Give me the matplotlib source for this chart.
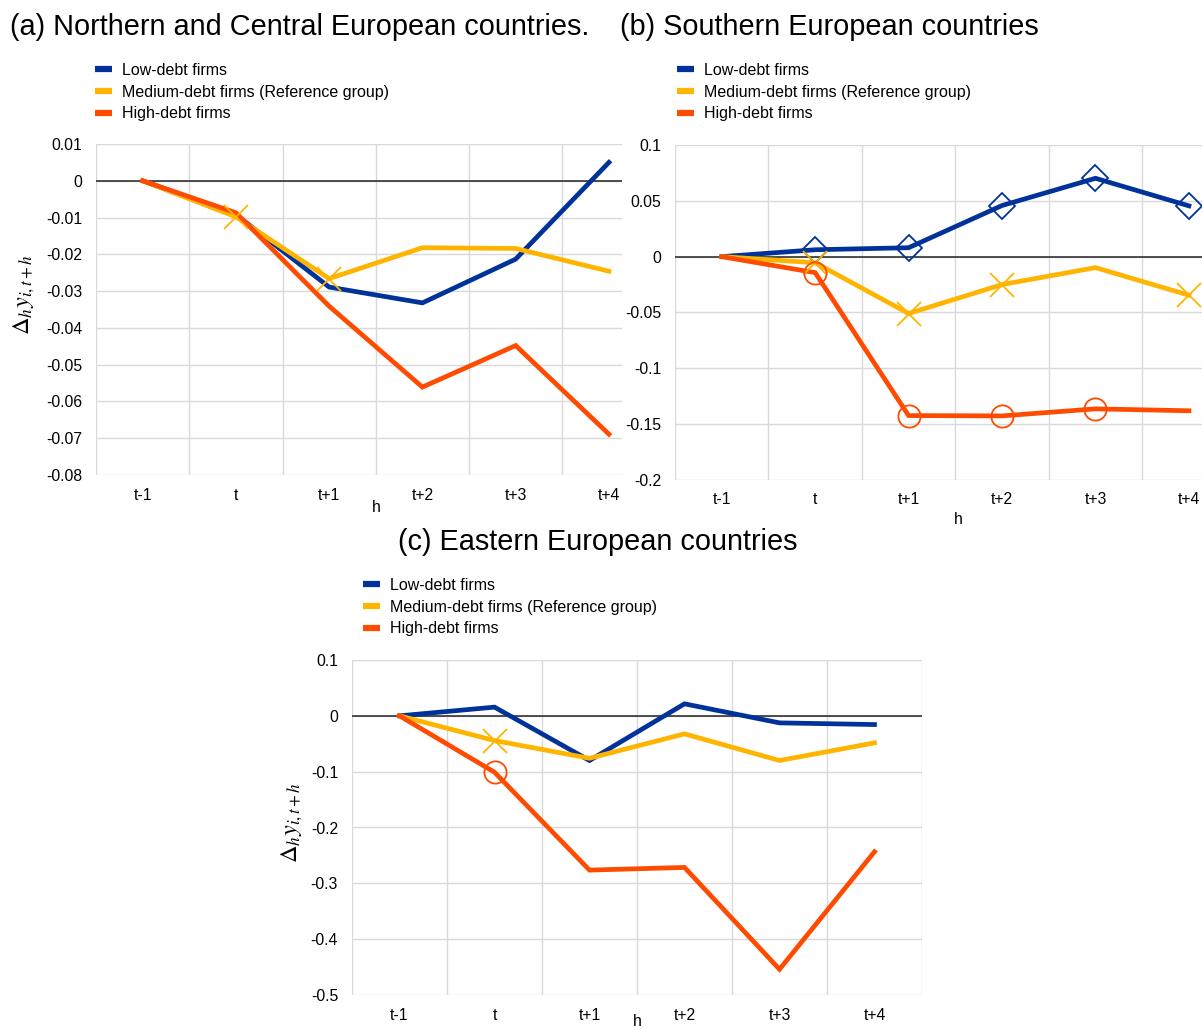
import numpy as np
import matplotlib
matplotlib.use('Agg')
import matplotlib.pyplot as plt
from matplotlib.lines import Line2D
from matplotlib.ticker import FuncFormatter, MultipleLocator

plt.rcParams['font.family'] = 'Liberation Sans'
plt.rcParams['mathtext.fontset'] = 'stix'

W, H = 1202, 1030

horizons = ['t-1', 't', 't+1', 't+2', 't+3', 't+4']
series_names = ['Low-debt firms', 'Medium-debt firms (Reference group)', 'High-debt firms']

# (a) Northern and Central Europe
north_low = [0, -0.0092, -0.0289, -0.0332, -0.0213, 0.0050]
north_med = [0, -0.0098, -0.0266, -0.0182, -0.0184, -0.0246]
north_high = [0, -0.0087, -0.0341, -0.0561, -0.0448, -0.0689]

# (b) Southern Europe
south_low = [0, 0.0062, 0.0080, 0.0458, 0.0702, 0.0455]
south_med = [0, -0.0054, -0.0509, -0.0250, -0.0098, -0.0345]
south_high = [0, -0.0143, -0.1423, -0.1426, -0.1363, -0.1380]

# (c) Eastern Europe
east_low = [0, 0.0156, -0.0800, 0.0215, -0.0126, -0.0156]
east_med = [0, -0.0443, -0.0760, -0.0323, -0.0800, -0.0484]
east_high = [0, -0.1010, -0.2763, -0.2715, -0.4540, -0.2434]

BLUE = '#003299'
YELLOW = '#FFB400'
ORANGE = '#FF4B00'
GRID = '#d9d9d9'


def px_rect(left, top, right, bottom):
    return [left / W, 1 - bottom / H, (right - left) / W, (bottom - top) / H]


def fmt(v, _):
    return f"{round(v, 3) + 0.0:g}"


def draw_panel(fig, rect, xmax, ylim, ystep, data, marks, legend_xy, label_h, label_y=None):
    ax = fig.add_axes(px_rect(*rect))
    x = np.arange(len(horizons))
    colors = [BLUE, YELLOW, ORANGE]
    styles = [dict(marker='D', markersize=13), dict(marker='x', markersize=17),
              dict(marker='o', markersize=16)]
    for vals, c, st, me in zip(data, colors, styles, marks):
        ax.plot(x, vals, color=c, lw=3.4, solid_joinstyle='miter', zorder=3)
        if me:
            ax.plot(x, vals, ls='none', color=c, markevery=me, mfc='none',
                    mec=c, mew=1.3, zorder=4, **st)

    ax.axhline(0, color='#222222', lw=1.1, zorder=2)
    ax.set_xticks(x)
    ax.set_xticklabels(horizons)
    ax.set_xticks(np.arange(-0.5, 6, 1), minor=True)
    # limits after the ticks, otherwise set_xticks widens the view
    ax.set_xlim(-0.5, xmax)
    ax.set_ylim(*ylim)
    ax.yaxis.set_major_locator(MultipleLocator(ystep))
    ax.yaxis.set_major_formatter(FuncFormatter(fmt))
    ax.grid(True, axis='x', which='minor', color=GRID, lw=1)
    ax.grid(True, axis='y', which='major', color=GRID, lw=1)
    ax.tick_params(which='both', length=0, labelsize=11.3, colors='black')
    ax.tick_params(axis='y', pad=10)
    ax.tick_params(axis='x', pad=9)
    for s in ax.spines.values():
        s.set_visible(False)

    ax.set_xlabel('h', fontsize=11.3)
    ax.xaxis.label.set_va('center')
    ax.xaxis.set_label_coords(*label_h)
    if label_y is not None:
        ax.set_ylabel(r'$\Delta_h y_{i,t+h}$', fontsize=17.5)
        ax.yaxis.label.set_va('center')
        ax.yaxis.set_label_coords(*label_y)

    handles = [Line2D([], [], color=c, lw=4.5, solid_capstyle='butt') for c in colors]
    ax.legend(handles, series_names, loc='upper left',
              bbox_to_anchor=(legend_xy[0] / W, 1 - legend_xy[1] / H),
              bbox_transform=fig.transFigure, frameon=False, fontsize=11.5,
              borderpad=0, borderaxespad=0, handlelength=1.05,
              handletextpad=0.65, labelspacing=0.42)
    return ax


def main():
    fig = plt.figure(figsize=(W / 100, H / 100), dpi=100)

    fig.text(10 / W, 1 - 27 / H, '(a) Northern and Central European countries.',
             fontsize=20.8, va='center', ha='left')
    fig.text(620 / W, 1 - 27 / H, '(b) Southern European countries',
             fontsize=20.8, va='center', ha='left')
    fig.text(398 / W, 1 - 542 / H, '(c) Eastern European countries',
             fontsize=20.8, va='center', ha='left')

    # panel (a) is cut off on the right by panel (b)
    draw_panel(fig, (96, 144, 622, 475), 5.14, (-0.08, 0.01), 0.01,
               [north_low, north_med, north_high],
               [None, [1, 2], None],
               (95, 63), ((376 - 96) / 526, -(507 - 475) / 331),
               label_y=(-(96 - 24) / 526, (475 - 294) / 331))

    draw_panel(fig, (675, 145, 1202, 480), 5.14, (-0.2, 0.1), 0.05,
               [south_low, south_med, south_high],
               [[1, 2, 3, 4, 5], [1, 2, 3, 5], [1, 2, 3, 4]],
               (677, 63), ((958 - 675) / 527, -(519 - 480) / 335))

    draw_panel(fig, (352, 660, 922, 995), 5.5, (-0.5, 0.1), 0.1,
               [east_low, east_med, east_high],
               [None, [1], [1]],
               (363, 578), ((637 - 352) / 570, -(1022 - 995) / 335),
               label_y=(-(352 - 292) / 570, (995 - 822) / 335))

    fig.savefig('out.png', dpi=100)


if __name__ == '__main__':
    main()
